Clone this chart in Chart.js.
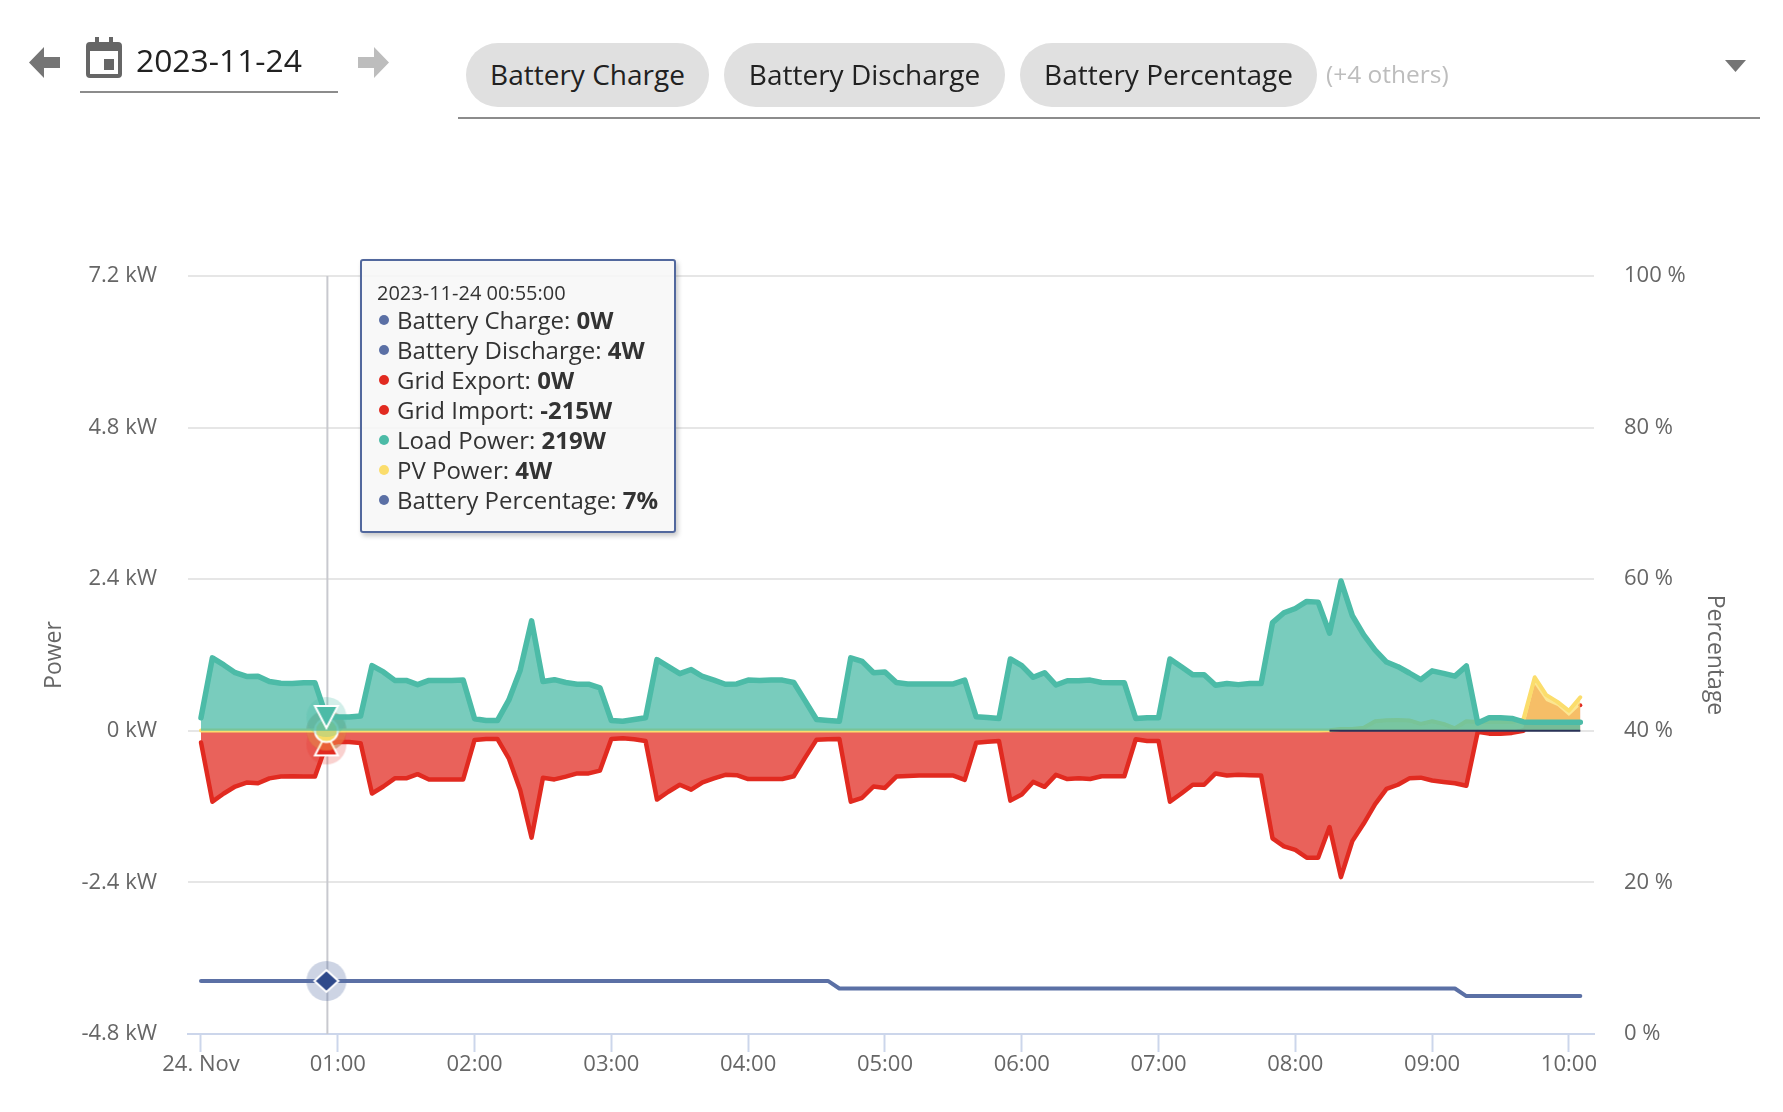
<!DOCTYPE html>
<html><head><meta charset="utf-8">
<script src="https://cdn.jsdelivr.net/npm/chart.js@4/dist/chart.umd.min.js"></script>
<style>
html,body{margin:0;padding:0;background:#fff;width:1783px;height:1112px;overflow:hidden;font-family:"Open Sans",sans-serif}
#c{position:absolute;left:0;top:0}
.abs{position:absolute}
.chip{position:absolute;top:43px;height:64px;line-height:62px;background:#e0e0e0;border-radius:32px;color:#212121;font-size:28px;text-align:center;white-space:nowrap}
.rule{position:absolute;height:2px;background:#8c8c8c}
#tip{position:absolute;left:360px;top:259px;width:312px;height:270px;border:2px solid #52689d;border-radius:3px;background:rgba(247,247,247,.88);box-shadow:2px 3px 5px rgba(0,0,0,.22);color:#333;box-sizing:content-box}
#tip .when{position:absolute;left:15px;top:18px;font-size:20px;line-height:28px;white-space:nowrap}
#tip .row{position:absolute;left:35px;font-size:24px;line-height:30px;white-space:nowrap}
#tip .dot{position:absolute;left:17px;width:10px;height:10px;border-radius:50%}
</style></head>
<body>
<canvas id="c" width="1783" height="1112"></canvas>

<svg class="abs" style="left:29px;top:47px" width="32" height="32" viewBox="0 0 32 32"><path d="M0 15.5 L15 0 V10 H31 V21 H15 V31 Z" fill="#757575"/></svg>
<svg class="abs" style="left:358px;top:47px" width="32" height="32" viewBox="0 0 32 32"><path d="M31 15.5 L16 0 V10 H0 V21 H16 V31 Z" fill="#bdbdbd"/></svg>
<svg class="abs" style="left:86px;top:37px" width="36" height="41" viewBox="0 0 36 41"><path d="M9 0h4v5h10V0h4v5h5a4 4 0 0 1 4 4v28a4 4 0 0 1-4 4H4a4 4 0 0 1-4-4V9a4 4 0 0 1 4-4h5z M4 14v23h28V14z" fill="#666" fill-rule="evenodd"/><rect x="18" y="22" width="10" height="11" fill="#666"/></svg>
<div class="abs" id="dateText" style="left:136px;top:38px;font-size:31.8px;line-height:44px;color:#212121">2023-11-24</div>
<div class="rule" style="left:80px;top:91px;width:258px"></div>

<div class="chip" style="left:466px;width:243px">Battery Charge</div>
<div class="chip" style="left:724px;width:281px">Battery Discharge</div>
<div class="chip" style="left:1020px;width:297px">Battery Percentage</div>
<div class="abs" style="left:1326px;top:57px;font-size:24.5px;line-height:34px;color:#bdbdbd">(+4 others)</div>
<svg class="abs" style="left:1729px;top:60px;margin-left:-4px" width="21" height="12" viewBox="0 0 21 12"><path d="M0 0H21L10.5 12Z" fill="#757575"/></svg>
<div class="rule" style="left:458px;top:117px;width:1302px"></div>

<div id="tip"></div>

<script>
const minutes = [0,5,10,15,20,25,30,35,40,45,50,55,60,65,70,75,80,85,90,95,100,105,110,115,120,125,130,135,140,145,150,155,160,165,170,175,180,185,190,195,200,205,210,215,220,225,230,235,240,245,250,255,260,265,270,275,280,285,290,295,300,305,310,315,320,325,330,335,340,345,350,355,360,365,370,375,380,385,390,395,400,405,410,415,420,425,430,435,440,445,450,455,460,465,470,475,480,485,490,495,500,505,510,515,520,525,530,535,540,545,550,555,560,565,570,575,580,585,590,595,600,605];
const tickMinutes = [0,60,120,180,240,300,360,420,480,540,600];
const tickLabels = ["24. Nov","01:00","02:00","03:00","04:00","05:00","06:00","07:00","08:00","09:00","10:00"];
const loadPower = [206,1155,1043,920,860,865,781,753,748,759,759,219,
218,218,234,1032,932,798,798,731,798,798,798,803,
190,162,162,485,960,1741,781,809,764,737,737,680,
162,150,178,206,1127,1015,904,970,860,803,737,742,
803,798,803,803,764,474,178,162,150,1155,1099,920,
932,764,742,742,742,742,742,803,223,212,195,1138,
1032,848,920,725,792,792,803,764,759,759,195,206,
206,1138,1015,887,887,720,748,731,748,748,1713,1869,
1936,2048,2037,1546,2372,1825,1518,1278,1088,1015,915,809,
949,910,865,1027,123,206,206,195,140,134,134,134,134,134];
const gridImport = [-184,-1122,-993,-882,-820,-831,-753,-725,-720,-725,-725,-215,
-179,-179,-195,-993,-882,-753,-753,-686,-770,-770,-770,-770,
-145,-128,-128,-435,-937,-1691,-742,-770,-725,-675,-675,-630,
-128,-117,-134,-162,-1088,-965,-854,-932,-815,-753,-697,-703,
-764,-764,-764,-764,-720,-424,-140,-134,-128,-1122,-1060,-882,
-904,-725,-714,-709,-709,-709,-709,-776,-190,-173,-162,-1105,
-1010,-809,-887,-697,-764,-753,-764,-720,-720,-720,-134,-162,
-162,-1122,-993,-854,-854,-675,-709,-697,-703,-709,-1702,-1830,
-1886,-2009,-2009,-1523,-2316,-1747,-1468,-1161,-921,-854,-753,-742,
-787,-809,-831,-870,-17,-45,-45,-33,0,0,0,0,0,0];
const gridExport = [0,0,0,0,0,0,0,0,0,0,0,0,0,0,0,0,0,0,0,0,0,0,0,0,
0,0,0,0,0,0,0,0,0,0,0,0,0,0,0,0,0,0,0,0,0,0,0,0,
0,0,0,0,0,0,0,0,0,0,0,0,0,0,0,0,0,0,0,0,0,0,0,0,
0,0,0,0,0,0,0,0,0,0,0,0,0,0,0,0,0,0,0,0,0,0,0,0,
0,0,0,0,0,0,0,0,0,0,0,0,0,0,0,0,0,0,0,0,40,736,472,392,234,404];
const pvPower = [4,4,4,4,4,4,4,4,4,4,4,4,4,4,4,4,4,4,4,4,4,4,4,4,
4,4,4,4,4,4,4,4,4,4,4,4,4,4,4,4,4,4,4,4,4,4,4,4,
4,4,4,4,4,4,4,4,4,4,4,4,4,4,4,4,4,4,4,4,4,4,4,4,
4,4,4,4,4,4,4,4,4,4,4,4,4,4,4,4,4,4,4,4,4,4,4,4,
4,4,4,10,28,30,50,150,167,170,165,110,150,110,40,150,140,140,145,140,178,848,569,458,318,530];
const batteryCharge = [0,0,0,0,0,0,0,0,0,0,0,0,0,0,0,0,0,0,0,0,0,0,0,0,
0,0,0,0,0,0,0,0,0,0,0,0,0,0,0,0,0,0,0,0,0,0,0,0,
0,0,0,0,0,0,0,0,0,0,0,0,0,0,0,0,0,0,0,0,0,0,0,0,
0,0,0,0,0,0,0,0,0,0,0,0,0,0,0,0,0,0,0,0,0,0,0,0,
0,0,0,0,0,0,0,0,0,0,0,0,0,0,0,0,0,0,0,0,0,0,0,0,0,0];
const batteryDischarge = [4,4,4,4,4,4,4,4,4,4,4,4,4,4,4,4,4,4,4,4,4,4,4,4,
4,4,4,4,4,4,4,4,4,4,4,4,4,4,4,4,4,4,4,4,4,4,4,4,
4,4,4,4,4,4,4,4,4,4,4,4,4,4,4,4,4,4,4,4,4,4,4,4,
4,4,4,4,4,4,4,4,4,4,4,4,4,4,4,4,4,4,4,4,4,4,4,4,
4,4,0,0,0,0,0,0,0,0,0,0,0,0,0,0,0,0,0,0,0,0,0,0,0,0];
const batteryPercent = [7,7,7,7,7,7,7,7,7,7,7,7,7,7,7,7,7,7,7,7,7,7,7,7,
7,7,7,7,7,7,7,7,7,7,7,7,7,7,7,7,7,7,7,7,7,7,7,7,
7,7,7,7,7,7,7,7,6,6,6,6,6,6,6,6,6,6,6,6,6,6,6,6,
6,6,6,6,6,6,6,6,6,6,6,6,6,6,6,6,6,6,6,6,6,6,6,6,
6,6,6,6,6,6,6,6,6,6,6,6,6,6,6,5,5,5,5,5,5,5,5,5,5,5];
const hoverIndex = 11;
const hoverStamp = "2023-11-24 00:55:00";

const TEAL="#4cbba7", RED="#e12a20", YEL="#fbdd6c", SLATE="#5b70a5", NAVY="#2f4a8b", DARK="#2a3358";
const tealFill="rgba(76,187,167,.75)", redFill="rgba(226,45,36,.75)", yelFill="rgba(251,221,108,.75)";

function marker(shape, fill, halo){
  const S=48, c=document.createElement("canvas"); c.width=S; c.height=S;
  const g=c.getContext("2d"), m=S/2;
  g.fillStyle=halo; g.beginPath(); g.arc(m,m,20,0,Math.PI*2); g.fill();
  if(!shape) return c;
  g.fillStyle=fill; g.strokeStyle="#fff"; g.lineWidth=2; g.lineJoin="miter"; g.beginPath();
  if(shape==="down"){g.moveTo(m-11.5,m-11);g.lineTo(m+11.5,m-11);g.lineTo(m,m+11);g.closePath();}
  if(shape==="up"){g.moveTo(m-11.5,m+11);g.lineTo(m+11.5,m+11);g.lineTo(m,m-11);g.closePath();}
  if(shape==="circle"){g.arc(m,m,11.5,0,Math.PI*2);}
  if(shape==="diamond"){g.moveTo(m,m-11);g.lineTo(m+12,m);g.lineTo(m,m+11);g.lineTo(m-12,m);g.closePath();}
  g.fill(); g.stroke();
  return c;
}
const pts = arr => arr.map((v,i)=>({x:minutes[i],y:v}));
const atHover = ctx => ctx.dataIndex===hoverIndex ? 10 : 0;
const font = {family:'"Open Sans",sans-serif', size:22};

const exportMark = marker(null,null,"rgba(226,45,36,.22)");
const datasets = [
 {label:"Battery Discharge", data:pts(batteryDischarge), yAxisID:"yP", order:8, borderColor:"transparent", borderWidth:0, backgroundColor:"transparent", fill:false,
  pointStyle:marker(null,null,"rgba(70,80,110,.42)"), pointRadius:atHover},
 {label:"Grid Export", data:pts(gridExport), yAxisID:"yP", order:7, borderColor:"transparent", borderWidth:0, backgroundColor:redFill, fill:"origin",
  pointStyle:ctx=>ctx.dataIndex===121?"circle":exportMark, pointBackgroundColor:RED, pointBorderWidth:0,
  pointRadius:ctx=>ctx.dataIndex===hoverIndex?10:(ctx.dataIndex===121?2:0)},
 {label:"Grid Import", data:pts(gridImport), yAxisID:"yP", order:6, borderColor:RED, borderWidth:4.5, backgroundColor:redFill, fill:"origin",
  borderJoinStyle:"round", borderCapStyle:"round",
  segment:{borderColor:ctx=>ctx.p0DataIndex>=116?"transparent":RED},
  pointStyle:marker("up",RED,"rgba(226,45,36,.22)"), pointRadius:atHover},
 {label:"PV Power", data:pts(pvPower), yAxisID:"yP", order:5, borderColor:YEL, borderWidth:4, backgroundColor:yelFill, fill:"origin",
  borderJoinStyle:"round", borderCapStyle:"round",
  pointStyle:marker("circle","#f6dc66","rgba(251,221,108,.3)"), pointRadius:atHover},
 {label:"Load Power", data:pts(loadPower), yAxisID:"yP", order:4, borderColor:TEAL, borderWidth:5.5, backgroundColor:tealFill, fill:"origin",
  borderJoinStyle:"round", borderCapStyle:"round",
  pointStyle:marker("down",TEAL,"rgba(76,187,167,.25)"), pointRadius:atHover},
 {label:"Battery Charge", data:pts(batteryCharge), yAxisID:"yP", order:3, borderColor:DARK, borderWidth:2, backgroundColor:"transparent", fill:false, pointRadius:0,
  segment:{borderColor:ctx=>ctx.p0DataIndex<99?"transparent":DARK}},
 {label:"Battery Percentage", data:pts(batteryPercent), yAxisID:"yR", order:2, borderColor:SLATE, borderWidth:4, backgroundColor:"transparent", fill:false,
  borderJoinStyle:"round", borderCapStyle:"round",
  pointStyle:marker("diamond",NAVY,"rgba(91,112,165,.3)"), pointRadius:atHover}
];

const crosshair = {id:"crosshair", beforeDatasetsDraw(chart){
  const {ctx,chartArea:a,scales:s}=chart, x=s.x.getPixelForValue(minutes[hoverIndex])+1;
  ctx.save(); ctx.strokeStyle="#c8c9cf"; ctx.lineWidth=2; ctx.beginPath(); ctx.moveTo(x,a.top); ctx.lineTo(x,a.bottom); ctx.stroke(); ctx.restore();
}};

new Chart(document.getElementById("c"),{
 type:"line",
 data:{datasets},
 plugins:[crosshair],
 options:{
  responsive:false, animation:false, devicePixelRatio:1, events:[],
  layout:{padding:{top:276,left:0,right:0,bottom:0}},
  plugins:{legend:{display:false},tooltip:{enabled:false}},
  scales:{
   x:{type:"linear",min:-5.7,max:611,
      afterBuildTicks:s=>{s.ticks=tickMinutes.map(v=>({value:v}));},
      afterFit:s=>{s.height=78;},
      border:{color:"#ccd6eb",width:2},
      grid:{drawOnChartArea:false,drawTicks:true,tickLength:18,tickColor:"#ccd6eb",tickWidth:2},
      ticks:{font,color:"#666",padding:0,maxRotation:0,autoSkip:false,callback:(v,i)=>tickLabels[i]}},
   yP:{type:"linear",position:"left",min:-4800,max:7200,
      afterFit:s=>{s.width=188;},
      border:{display:false},
      grid:{color:"#e6e6e6",lineWidth:2,drawTicks:false},
      ticks:{stepSize:2400,font,color:"#666",padding:31,callback:v=>(v/1000)+" kW"},
      title:{display:true,text:"Power",font:{family:font.family,size:23},color:"#666",padding:{top:41,bottom:0}}},
   yR:{type:"linear",position:"right",min:0,max:100,
      afterFit:s=>{s.width=189;},
      border:{display:false},
      grid:{drawOnChartArea:false,drawTicks:false},
      ticks:{stepSize:20,font,color:"#666",padding:30,callback:v=>v+" %"},
      title:{display:true,text:"Percentage",font:{family:font.family,size:23},color:"#666",padding:{top:55,bottom:0}}}
  }
 }
});

const tipRows = [
 ["Battery Charge",batteryCharge,"W",SLATE],
 ["Battery Discharge",batteryDischarge,"W",SLATE],
 ["Grid Export",gridExport,"W",RED],
 ["Grid Import",gridImport,"W",RED],
 ["Load Power",loadPower,"W",TEAL],
 ["PV Power",pvPower,"W",YEL],
 ["Battery Percentage",batteryPercent,"%",SLATE]
];
const tip=document.getElementById("tip");
let html='<div class="when">'+hoverStamp+'</div>';
tipRows.forEach((r,i)=>{
  const top=44+i*30;
  html+='<span class="dot" style="top:'+(top+10)+'px;background:'+r[3]+'"></span>';
  html+='<div class="row" style="top:'+top+'px">'+r[0]+': <b>'+r[1][hoverIndex]+r[2]+'</b></div>';
});
tip.innerHTML=html;
</script>
</body></html>
